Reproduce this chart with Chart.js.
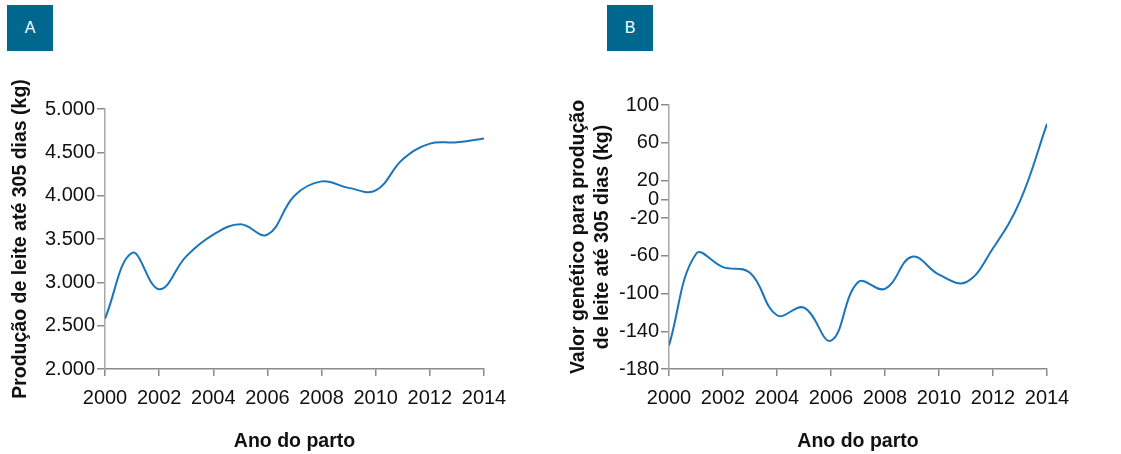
<!DOCTYPE html>
<html lang="pt-BR">
<head>
  <meta charset="UTF-8">
  <title>Produção de leite e valor genético</title>
  <script src="https://cdn.jsdelivr.net/npm/chart.js"></script>
  <style>
    body { margin: 0; background: #ffffff; font-family: "Liberation Sans", Arial, sans-serif; }
    .wrap { position: relative; width: 1121px; height: 454px; }
    .panel { position: absolute; top: 0; height: 454px; }
    .tag { position: absolute; top: 5px; width: 46px; height: 46px; background: #00688f; color: #fff;
           font-size: 16px; line-height: 46px; text-align: center; }
  </style>
</head>
<body>
  <div class="wrap">
    <div class="panel" style="left:0;width:560px"><canvas id="chartA"></canvas></div>
    <div class="panel" style="left:560px;width:561px"><canvas id="chartB"></canvas></div>
    <div class="tag" style="left:7px">A</div>
    <div class="tag" style="left:607px">B</div>
  </div>

  <script>
    // dados
    const anos = [2000, 2001, 2002, 2003, 2004, 2005, 2006, 2007, 2008, 2009, 2010, 2011, 2012, 2013, 2014];
    const producao = [2580, 3340, 2920, 3300, 3550, 3670, 3550, 4000, 4165, 4090, 4060, 4420, 4600, 4615, 4660];
    const valorGenetico = [-155, -58, -72, -78, -123, -115, -150, -88, -95, -61, -80, -88, -52, -2, 80];
    const ticksX = [2000, 2002, 2004, 2006, 2008, 2010, 2012, 2014];
    const ticksA = [2000, 2500, 3000, 3500, 4000, 4500, 5000];
    const ticksB = [-180, -140, -100, -60, -20, 0, 20, 60, 100];

    const tickFont = { family: 'Liberation Sans', size: 20 };
    const titleFont = { family: 'Liberation Sans', size: 19.5, weight: 'bold' };
    const fmt = new Intl.NumberFormat('pt-BR');

    function makeChart(canvas, values, yTicks, yMin, yMax, yTitle, padTop, padRight, yWidth, titlePad, fmtY) {
      return new Chart(canvas, {
        type: 'line',
        data: {
          datasets: [{
            data: anos.map((a, i) => ({ x: a, y: values[i] })),
            borderColor: '#1b75bb',
            borderWidth: 2,
            pointRadius: 0,
            tension: 0.4,
            fill: false
          }]
        },
        options: {
          responsive: false,
          animation: false,
          layout: { padding: { top: padTop, right: padRight, left: 0, bottom: 0 } },
          plugins: { legend: { display: false }, tooltip: { enabled: false } },
          scales: {
            x: {
              type: 'linear', min: 2000, max: 2014,
              afterBuildTicks: s => { s.ticks = ticksX.map(v => ({ value: v })); },
              afterFit: s => { s.height = 85; },
              border: { color: '#8a8a8a', width: 1.5 },
              grid: { display: true, drawOnChartArea: false, drawTicks: true, tickLength: 7, color: '#8a8a8a', lineWidth: 1.5 },
              ticks: { font: tickFont, color: '#111', padding: 10, maxRotation: 0, callback: v => String(v) },
              title: { display: true, text: 'Ano do parto', font: titleFont, color: '#111', padding: { top: 0, bottom: 1 } }
            },
            y: {
              min: yMin, max: yMax,
              afterBuildTicks: s => { s.ticks = yTicks.map(v => ({ value: v })); },
              afterFit: s => { s.width = yWidth; },
              border: { color: '#a8a8a8', width: 1.5 },
              grid: { display: true, drawOnChartArea: false, drawTicks: true, tickLength: 8, color: '#8a8a8a', lineWidth: 1.5 },
              ticks: { font: tickFont, color: '#111', padding: 2, callback: fmtY },
              title: { display: true, text: yTitle, font: { ...titleFont, lineHeight: 1.22 }, color: '#111', padding: { top: titlePad, bottom: 0 } }
            }
          }
        }
      });
    }

    const cA = document.getElementById('chartA');
    cA.width = 560; cA.height = 454;
    const cB = document.getElementById('chartB');
    cB.width = 561; cB.height = 454;

    makeChart(cA, producao, ticksA, 2000, 5000, 'Produção de leite até 305 dias (kg)', 109, 76, 105, 9,
      v => fmt.format(v));
    makeChart(cB, valorGenetico, ticksB, -180, 100, ['Valor genético para produção', 'de leite até 305 dias (kg)'], 105, 74, 109, 7,
      v => String(v));
  </script>
</body>
</html>
